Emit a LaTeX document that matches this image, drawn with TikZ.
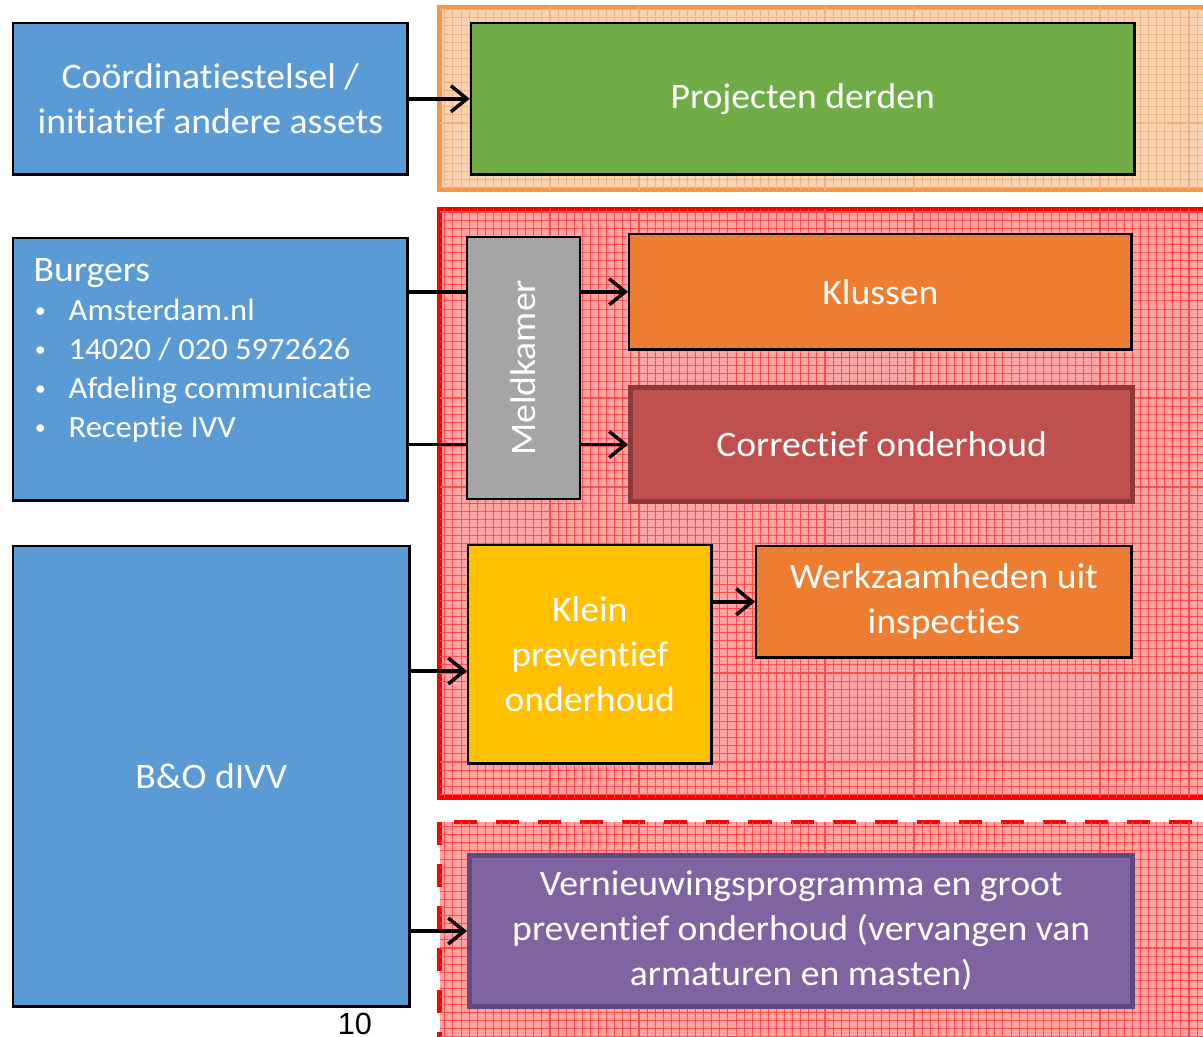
\documentclass[tikz,border=0pt]{standalone}
\usepackage{fontspec}
\setmainfont{Carlito}[Ligatures=NoCommon,FakeStretch=1.05]
\newfontfamily\paginafont{Liberation Sans}
\usetikzlibrary{positioning,arrows.meta,patterns.meta}
\definecolor{blauw}{HTML}{5B9BD5}
\definecolor{groen}{HTML}{70AD47}
\definecolor{grijs}{HTML}{A5A5A5}
\definecolor{oranje}{HTML}{ED7D31}
\definecolor{steenrood}{HTML}{C0504D}
\definecolor{steenrand}{HTML}{8C3A38}
\definecolor{geel}{HTML}{FFC000}
\definecolor{paars}{HTML}{8064A2}
\definecolor{paarsrand}{HTML}{5E4A7E}
\definecolor{zalmrand}{HTML}{F79646}
\definecolor{zalm}{HTML}{FBD3B3}
\definecolor{zalmlijn}{HTML}{F6B27E}
\definecolor{roze}{HTML}{FFA3A3}
\newcommand{\opsom}{\makebox[0.35cm][l]{\hspace{0.3pt}\raisebox{0.25ex}{\fontsize{6}{6}\selectfont\textbullet}}}
\tikzset{
    blok/.style={rectangle,draw=black,line width=0.7pt,text=white,align=center,inner sep=0pt,
        font=\fontsize{10.2}{12.8}\selectfont,anchor=north west},
    bron/.style={blok,fill=blauw},
    zonezalm/.style={draw=zalmrand,line width=1.4pt,fill=zalm,
        postaction={pattern={Hatch[angle=0,distance=2.3pt,line width=0.3pt]},pattern color=zalmlijn}},
    zonerood/.style={draw=red,line width=1.4pt,fill=roze,
        postaction={pattern={Hatch[angle=0,distance=2.3pt,line width=0.3pt]},pattern color=red!70}},
    pijl/.style={line width=1pt},
}

\begin{document}
\begin{tikzpicture}[x=0.01cm,y=-0.01cm,>={Straight Barb[length=1.6mm,width=2.6mm,line width=1pt]}]
\clip (0,0) rectangle (1203,1037);
% kaders
\draw[zonezalm] (439.5,7.5) rectangle (1240,189.5);
\draw[zonerood] (439.5,209.5) rectangle (1240,797.5);
\draw[zonerood,dash pattern=on 0.23cm off 0.19cm] (439.5,822) rectangle (1240,1070);
% bronnen
\node[bron,minimum width=3.94cm,minimum height=1.51cm] (coord) at (12,22) {Co\"ordinatiestelsel /\\initiatief andere assets};
\node[bron,minimum width=3.94cm,minimum height=2.62cm] (burg) at (12,237) {};
\node[anchor=north west,inner sep=0pt,text=white,align=left,font=\fontsize{8.8}{11.1}\selectfont] (burgtekst) at (33,258)
  {{\fontsize{10.2}{11.3}\selectfont Burgers}\\
   \opsom Amsterdam.nl\\
   \opsom 14020 / 020 5972626\\
   \opsom Afdeling communicatie\\
   \opsom Receptie IVV};
\node[bron,minimum width=3.96cm,minimum height=4.60cm] (bo) at (12,545) {B\&O dIVV};
% werk
\node[blok,fill=groen,minimum width=6.63cm,minimum height=1.51cm,right=0.61cm of coord] (proj) {Projecten derden};
\node[blok,fill=grijs,anchor=center,rotate=90,minimum width=2.62cm,minimum height=1.13cm] (meld) at (523.5,368) {Meldkamer};
\node[blok,fill=oranje,minimum width=5.02cm,minimum height=1.15cm] (kluss) at (628,233) {Klussen};
\node[blok,fill=steenrood,draw=steenrand,line width=1.4pt,minimum width=5.02cm,minimum height=1.14cm] (corr) at (628,385) {Correctief onderhoud};
\node[blok,fill=geel,minimum width=2.43cm,minimum height=2.18cm] (klein) at (467,544) {Klein\\preventief\\onderhoud};
\node[blok,fill=oranje,minimum width=3.75cm,minimum height=1.11cm] (werk) at (755,545) {Werkzaamheden uit\\inspecties};
\node[blok,fill=paars,draw=paarsrand,line width=1.4pt,minimum width=6.63cm,minimum height=1.51cm] (vern) at (467,853)
  {Vernieuwingsprogramma en groot\\preventief onderhoud (vervangen van\\armaturen en masten)};
\node[font=\paginafont\fontsize{8.7}{10}\selectfont,inner sep=0pt] (pagina) at (355,1024) {10};
% verbindingen
\draw[pijl,->] (coord) -- (proj);
\draw[pijl] (burg.east |- kluss.west) -- (kluss.west -| meld.north);
\draw[pijl] (burg.east |- corr.west) -- (corr.west -| meld.north);
\draw[pijl,->] (kluss.west -| meld.south) -- (kluss.west);
\draw[pijl,->] (corr.west -| meld.south) -- (corr.west);
\draw[pijl,->] (bo.east |- 0,671) -- (klein.west |- 0,671);
\draw[pijl,->] (klein.east |- werk.west) -- (werk.west);
\draw[pijl,->] (bo.east |- vern.west) -- (vern.west);
\end{tikzpicture}
\end{document}
